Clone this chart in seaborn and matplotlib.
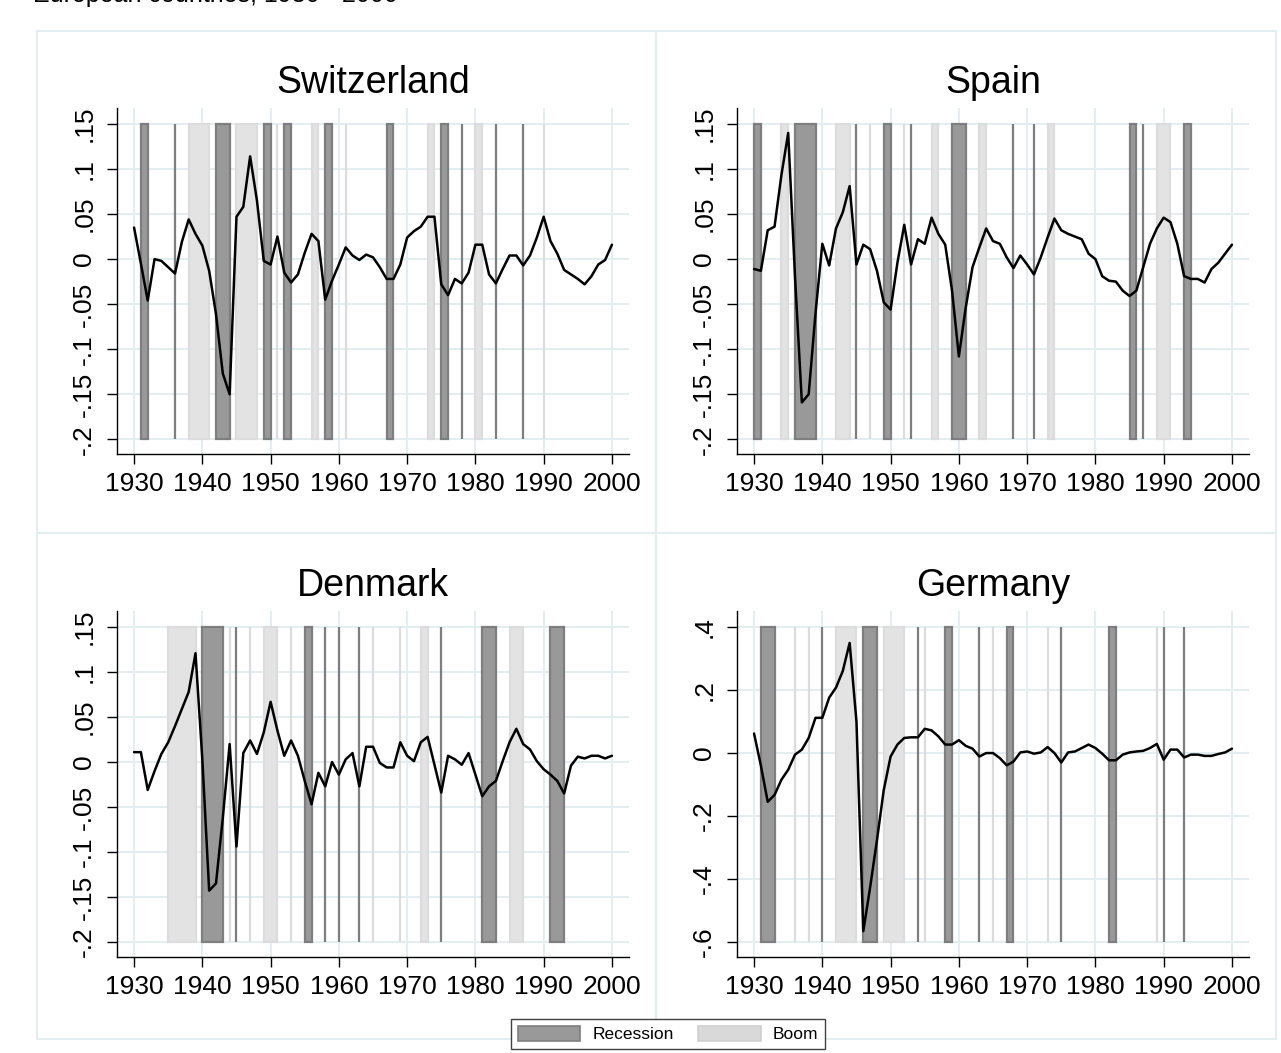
import numpy as np
import pandas as pd
import seaborn as sns
import matplotlib.pyplot as plt
from matplotlib.patches import Patch, Rectangle

years = list(range(1930, 2001))

swiss = [0.035, -0.005, -0.046, 0.000, -0.002, -0.009, -0.016, 0.019, 0.044, 0.028,
         0.015, -0.013, -0.061, -0.127, -0.150, 0.047, 0.058, 0.114, 0.065, -0.002,
         -0.006, 0.025, -0.015, -0.026, -0.017, 0.007, 0.028, 0.020, -0.045, -0.024,
         -0.006, 0.013, 0.004, -0.001, 0.005, 0.002, -0.009, -0.022, -0.022, -0.006,
         0.024, 0.031, 0.036, 0.047, 0.047, -0.028, -0.040, -0.022, -0.027, -0.015,
         0.016, 0.016, -0.017, -0.027, -0.011, 0.004, 0.004, -0.007, 0.004, 0.024,
         0.047, 0.020, 0.006, -0.012, -0.017, -0.022, -0.028, -0.019, -0.006, -0.001,
         0.016]
spain = [-0.011, -0.013, 0.032, 0.036, 0.093, 0.140, -0.020, -0.159, -0.150, -0.060,
         0.017, -0.007, 0.034, 0.052, 0.081, -0.006, 0.016, 0.011, -0.013, -0.048,
         -0.056, -0.004, 0.038, -0.006, 0.022, 0.017, 0.046, 0.028, 0.016, -0.035,
         -0.108, -0.054, -0.009, 0.013, 0.034, 0.020, 0.017, 0.002, -0.010, 0.004,
         -0.006, -0.017, 0.002, 0.024, 0.045, 0.032, 0.028, 0.025, 0.022, 0.006,
         0.000, -0.019, -0.024, -0.025, -0.035, -0.041, -0.035, -0.009, 0.017, 0.034,
         0.046, 0.041, 0.017, -0.019, -0.022, -0.022, -0.026, -0.011, -0.004, 0.006,
         0.016]
denmark = [0.011, 0.011, -0.031, -0.010, 0.009, 0.022, 0.040, 0.059, 0.078, 0.121,
           0.003, -0.143, -0.135, -0.062, 0.020, -0.094, 0.010, 0.024, 0.009, 0.033,
           0.067, 0.035, 0.007, 0.024, 0.007, -0.021, -0.047, -0.012, -0.027, 0.000,
           -0.014, 0.003, 0.010, -0.027, 0.017, 0.017, -0.001, -0.006, -0.006, 0.022,
           0.007, 0.001, 0.022, 0.028, -0.003, -0.034, 0.007, 0.003, -0.003, 0.010,
           -0.014, -0.038, -0.027, -0.021, 0.001, 0.022, 0.037, 0.020, 0.014, 0.001,
           -0.008, -0.014, -0.021, -0.035, -0.004, 0.006, 0.004, 0.007, 0.007, 0.004,
           0.007]
germany = [0.062, -0.040, -0.155, -0.133, -0.085, -0.053, -0.005, 0.011, 0.048, 0.112,
           0.112, 0.176, 0.208, 0.261, 0.350, 0.100, -0.566, -0.427, -0.277, -0.117,
           -0.011, 0.027, 0.048, 0.050, 0.050, 0.077, 0.072, 0.053, 0.027, 0.027,
           0.041, 0.023, 0.014, -0.011, 0.000, 0.000, -0.016, -0.039, -0.027, 0.002,
           0.005, -0.002, 0.002, 0.019, 0.000, -0.030, 0.002, 0.005, 0.016, 0.027,
           0.016, -0.002, -0.023, -0.023, -0.005, 0.002, 0.005, 0.007, 0.016, 0.029,
           -0.021, 0.011, 0.011, -0.014, -0.005, -0.005, -0.009, -0.009, -0.003, 0.002,
           0.014]

# recession / boom episodes (start year, end year)
swiss_rec = [(1931, 1932), (1936, 1936), (1942, 1944), (1949, 1950), (1952, 1953), (1958, 1959),
             (1967, 1968), (1975, 1976), (1978, 1978), (1983, 1983), (1987, 1987)]
swiss_boom = [(1938, 1941), (1945, 1948), (1951, 1951), (1956, 1957), (1961, 1961),
              (1973, 1974), (1980, 1981), (1990, 1990)]
spain_rec = [(1930, 1931), (1936, 1939), (1945, 1945), (1949, 1950), (1953, 1953), (1959, 1961),
             (1968, 1968), (1971, 1971), (1985, 1986), (1987, 1987), (1993, 1994)]
spain_boom = [(1934, 1935), (1942, 1944), (1947, 1947), (1952, 1952), (1956, 1957), (1963, 1964),
              (1973, 1974), (1989, 1991)]
denmark_rec = [(1940, 1943), (1945, 1945), (1955, 1956), (1958, 1958), (1960, 1960), (1963, 1963),
               (1975, 1975), (1981, 1983), (1991, 1993)]
denmark_boom = [(1935, 1939), (1944, 1944), (1947, 1947), (1949, 1951), (1953, 1953), (1965, 1965),
                (1969, 1969), (1972, 1973), (1985, 1987)]
germany_rec = [(1931, 1933), (1940, 1940), (1946, 1948), (1954, 1954), (1958, 1959), (1963, 1963),
               (1967, 1968), (1975, 1975), (1982, 1983), (1990, 1990), (1993, 1993)]
germany_boom = [(1936, 1936), (1938, 1938), (1942, 1945), (1949, 1952), (1955, 1955), (1965, 1965),
                (1973, 1973), (1989, 1989)]

small_ticks = [0.15, 0.1, 0.05, 0, -0.05, -0.1, -0.15, -0.2]
small_labels = [".15", ".1", ".05", "0", "-.05", "-.1", "-.15", "-.2"]
big_ticks = [0.4, 0.2, 0, -0.2, -0.4, -0.6]
big_labels = [".4", ".2", "0", "-.2", "-.4", "-.6"]

REC_C, REC_E = "#999999", "#7e7e7e"
BOOM_C, BOOM_E = "#e3e3e3", "#dcdcdc"
GRID_C = "#e4edf0"

sns.set_theme(style="white")
plt.rcParams['font.family'] = ['Liberation Sans', 'DejaVu Sans']
plt.rcParams['text.color'] = 'black'
plt.rcParams['xtick.color'] = 'black'
plt.rcParams['ytick.color'] = 'black'
plt.rcParams['axes.labelcolor'] = 'black'

W, H = 1281, 1053
fig = plt.figure(figsize=(W / 100, H / 100), dpi=100)

panels = [
    ("Switzerland", swiss, swiss_rec, swiss_boom, small_ticks, small_labels, [117, 108, 629, 454.3]),
    ("Spain", spain, spain_rec, spain_boom, small_ticks, small_labels, [737, 108, 1249, 454.3]),
    ("Denmark", denmark, denmark_rec, denmark_boom, small_ticks, small_labels, [117, 611.3, 629, 956.8]),
    ("Germany", germany, germany_rec, germany_boom, big_ticks, big_labels, [737, 611.3, 1249, 956.8]),
]

# light frames of the combined graph regions
for (x0, y0, x1, y1) in [(37, 31, 656, 533), (656, 31, 1276, 533),
                         (37, 533, 656, 1039), (656, 533, 1276, 1039)]:
    fig.add_artist(Rectangle((x0 / W, 1 - y1 / H), (x1 - x0) / W, (y1 - y0) / H,
                             transform=fig.transFigure, fill=False,
                             edgecolor=GRID_C, linewidth=1.5))

for name, vals, rec, boom, ticks, labels, (l, t, r, b) in panels:
    ax = fig.add_axes([l / W, 1 - b / H, (r - l) / W, (b - t) / H])
    top, bot = ticks[0], ticks[-1]
    pad = (top - bot) * 0.0505
    ax.set_ylim(bot - pad * 0.94, top + pad)
    ax.set_xlim(1927.5, 2002.5)

    bs = [s for s, e in boom]
    bw = [e - s for s, e in boom]
    ax.bar(bs, top - bot, width=bw, bottom=bot, align="edge", color=BOOM_C,
           edgecolor=BOOM_E, linewidth=1.6, zorder=1)
    rs = [s for s, e in rec]
    rw = [e - s for s, e in rec]
    ax.bar(rs, top - bot, width=rw, bottom=bot, align="edge", color=REC_C,
           edgecolor=REC_E, linewidth=1.6, zorder=1)

    sns.lineplot(x=years, y=vals, ax=ax, color="black", linewidth=1.8, zorder=3)

    ax.set_axisbelow(True)
    ax.grid(True, color=GRID_C, linewidth=1.4)
    ax.set_xticks(list(range(1930, 2001, 10)))
    ax.set_yticks(ticks)
    ax.set_yticklabels(labels, rotation=90, va="center")
    ax.tick_params(axis="both", labelsize=19, length=7, width=1.0, color="black",
                   labelcolor="black", left=True, bottom=True)
    ax.tick_params(axis="x", pad=6)
    ax.tick_params(axis="y", pad=8)
    for sp in ["top", "right"]:
        ax.spines[sp].set_visible(False)
    for sp in ["left", "bottom"]:
        ax.spines[sp].set_color("black")
        ax.spines[sp].set_linewidth(1.0)
    ax.set_xlabel("")
    ax.set_ylabel("")
    ax.set_title(name, fontsize=27, pad=11, color="black")

fig.text(33 / W, 1 - 2 / H, "European countries, 1930 - 2000", fontsize=18, va="baseline")

handles = [Patch(facecolor=REC_C, edgecolor=REC_E, linewidth=1.2),
           Patch(facecolor="#d9d9d9", edgecolor="#d0d0d0", linewidth=1.2)]
leg = fig.legend(handles, ["Recession", "Boom"], loc="center",
                 bbox_to_anchor=(668 / W, 1 - 1034 / H), ncol=2, fontsize=12.5,
                 frameon=True, fancybox=False, edgecolor="#404040", framealpha=1,
                 handlelength=3.6, handleheight=1.0, columnspacing=1.4,
                 handletextpad=0.7, borderpad=0.4)
leg.get_frame().set_linewidth(1.0)

fig.savefig("out.png", dpi=100)
